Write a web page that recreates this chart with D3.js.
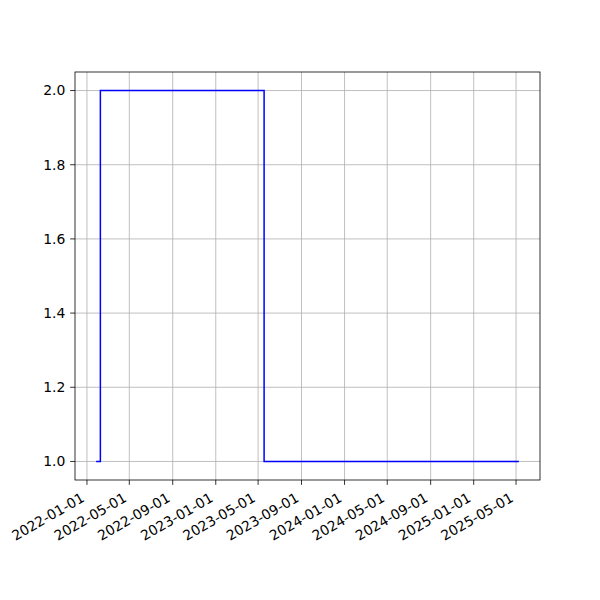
<!DOCTYPE html>
<html><head><meta charset="utf-8">
<script src="https://cdn.jsdelivr.net/npm/d3@7"></script>
<style>body{margin:0;background:#fff}svg{display:block}text{font-family:"DejaVu Sans",sans-serif}</style>
</head><body><svg id="c" width="600" height="600"></svg>
<script>
const dates = ["2022-01-27","2022-02-08","2023-05-18","2025-05-09"];
const values = [1, 2, 1, 1];
const xTickLabels = ["2022-01-01","2022-05-01","2022-09-01","2023-01-01","2023-05-01","2023-09-01","2024-01-01","2024-05-01","2024-09-01","2025-01-01","2025-05-01"];
const yTicks = [1.0, 1.2, 1.4, 1.6, 1.8, 2.0];

const L = 75, R = 540, T = 72, B = 480;
const svg = d3.select("#c");
const parse = d3.utcParse("%Y-%m-%d");
const data = dates.map((d, i) => ({t: parse(d), v: values[i]}));
const t0 = +data[0].t, t1 = +data[data.length - 1].t, dt = t1 - t0;
const x = d3.scaleUtc().domain([new Date(t0 - 0.05 * dt), new Date(t1 + 0.05 * dt)]).range([L, R]);
const y = d3.scaleLinear().domain([1 - 0.05, 2 + 0.05]).range([B, T]);
const fs = 13.9;

const g = svg.append("g");
// grid
xTickLabels.forEach(s => {
  const px = x(parse(s));
  g.append("line").attr("x1", px).attr("x2", px).attr("y1", T).attr("y2", B).attr("stroke", "#b0b0b0").attr("stroke-width", 0.8);
});
yTicks.forEach(v => {
  const py = y(v);
  g.append("line").attr("x1", L).attr("x2", R).attr("y1", py).attr("y2", py).attr("stroke", "#b0b0b0").attr("stroke-width", 0.8);
});
// line
const line = d3.line().x(d => x(d.t)).y(d => y(d.v)).curve(d3.curveStepAfter);
g.append("path").datum(data).attr("d", line).attr("fill", "none").attr("stroke", "#0000ff").attr("stroke-width", 1.5);
// frame
g.append("rect").attr("x", L).attr("y", T).attr("width", R - L).attr("height", B - T).attr("fill", "none").attr("stroke", "#000").attr("stroke-width", 0.8);
// x ticks
xTickLabels.forEach(s => {
  const px = x(parse(s));
  g.append("line").attr("x1", px).attr("x2", px).attr("y1", B).attr("y2", B + 4.86).attr("stroke", "#000").attr("stroke-width", 0.8);
  g.append("text").attr("transform", `translate(${px},${B + 23.5}) rotate(-30)`).attr("text-anchor", "end").attr("dy", "-0.24em").attr("font-size", fs).attr("fill", "#000").text(s);
});
// y ticks
yTicks.forEach(v => {
  const py = y(v);
  g.append("line").attr("x1", L - 4.86).attr("x2", L).attr("y1", py).attr("y2", py).attr("stroke", "#000").attr("stroke-width", 0.8);
  g.append("text").attr("x", L - 9.7).attr("y", py).attr("dy", "0.35em").attr("text-anchor", "end").attr("font-size", fs).attr("fill", "#000").text(v.toFixed(1));
});
</script></body></html>
